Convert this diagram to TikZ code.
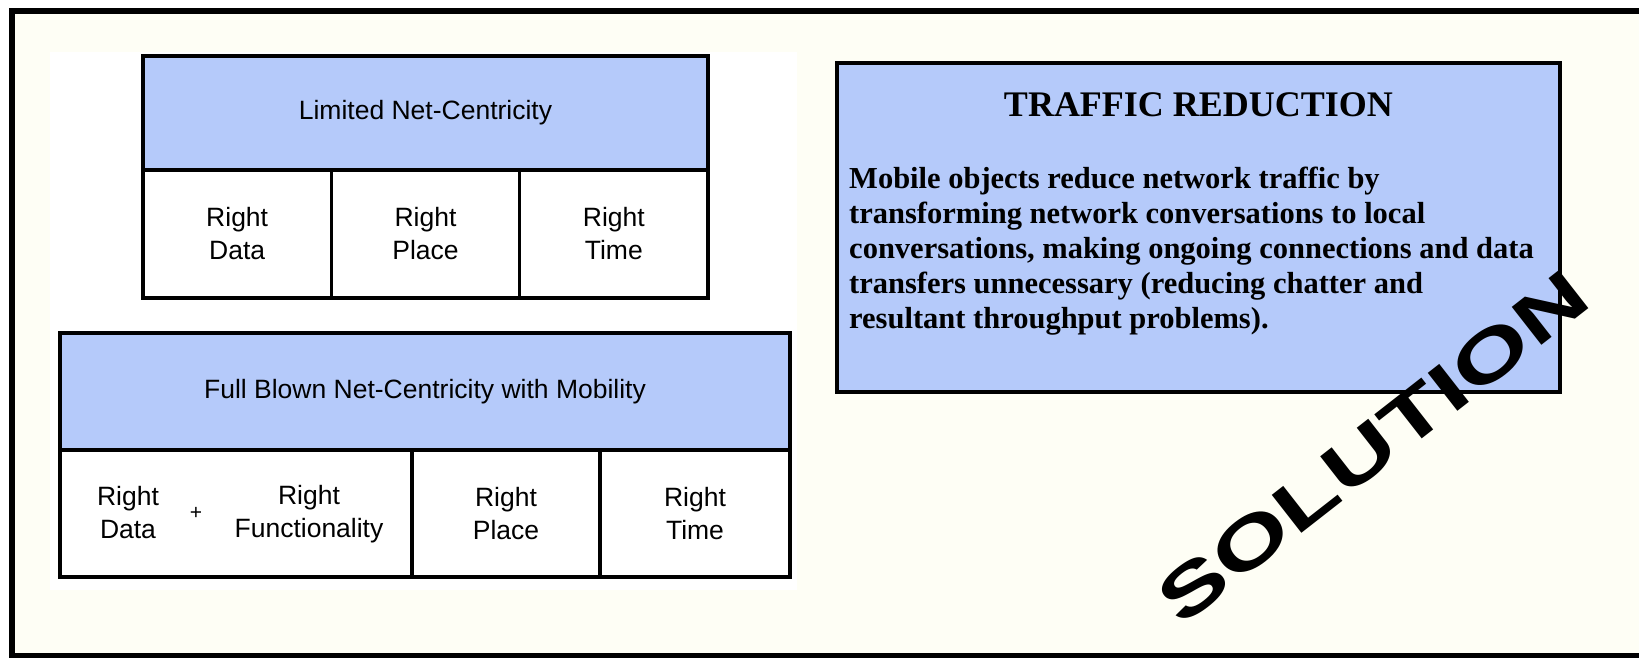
\documentclass[tikz,border=0pt]{standalone}
\usepackage{fontspec}
\setmainfont{Liberation Serif}
\setsansfont{Liberation Sans}
\usetikzlibrary{positioning}
\definecolor{netblue}{RGB}{181,202,250}
\definecolor{slidecream}{RGB}{254,254,245}
\newcommand{\tabfont}{\sffamily\fontsize{26.5}{33}\selectfont}
\tikzset{
    hdrbox/.style={draw, line width=3.5pt, fill=netblue, outer sep=0pt, inner sep=0pt, font=\tabfont, anchor=north west},
    cellbox/.style={draw, line width=3.5pt, fill=white, outer sep=0pt, inner sep=0pt, font=\tabfont, align=center},
    celltext/.style={font=\tabfont, align=center, inner sep=0pt}
}
\begin{document}
\begin{tikzpicture}[x=1pt, y=-1pt]
        \useasboundingbox (0,0) rectangle (1639,657);
        % slide frame
        \fill[slidecream] (12,10.5) rectangle (1639,655.5);
        \draw[line width=6pt] (1639,10.5) -- (12,10.5) -- (12,655.5) -- (1639,655.5);
        \fill[white] (50,52) rectangle (797,590);
        % limited net-centricity
        \node[hdrbox, minimum width=565pt, minimum height=114pt] (ltd) at (143,56) {Limited Net-Centricity};
        \node[cellbox, minimum width=188.33pt, minimum height=128pt, anchor=north west] (ltddata) at (ltd.south west) {Right\\Data};
        \node[cellbox, minimum width=188.33pt, minimum height=128pt, right=0pt of ltddata] (ltdplace) {Right\\Place};
        \node[cellbox, minimum width=188.33pt, minimum height=128pt, right=0pt of ltdplace] (ltdtime) {Right\\Time};
        % full blown net-centricity
        \node[hdrbox, minimum width=730pt, minimum height=117pt] (full) at (60,333) {Full Blown Net-Centricity with Mobility};
        \node[cellbox, minimum width=352pt, minimum height=127pt, anchor=north west] (fulldata) at (full.south west) {};
        \node[cellbox, minimum width=188pt, minimum height=127pt, right=0pt of fulldata] (fullplace) {Right\\Place};
        \node[cellbox, minimum width=190pt, minimum height=127pt, right=0pt of fullplace] (fulltime) {Right\\Time};
        \node[celltext] (rdata) at (128,513) {Right\\Data};
        \node[celltext, font=\sffamily\fontsize{21}{22}\selectfont] (plus) at (196,513) {+};
        \node[celltext] (rfunc) at (309,514) {Right\\Functionality};
        % traffic reduction
        \node[draw, line width=4pt, fill=netblue, outer sep=0pt, minimum width=723pt, minimum height=329pt, anchor=north west] (traffic) at (837,63) {};
        \node[font=\bfseries\fontsize{36}{42}\selectfont, anchor=base] (traffictitle) at (1198.5,116) {TRAFFIC REDUCTION};
        \node[font=\bfseries\fontsize{30.5}{35}\selectfont, align=left, anchor=north west, inner sep=0pt] (traffictext) at (849,167) {Mobile objects reduce network traffic by\\transforming network conversations to local\\conversations, making ongoing connections and data\\transfers unnecessary (reducing chatter and\\resultant throughput problems).};
        % stamp
        \node[font=\sffamily\bfseries\fontsize{70}{80}\selectfont, rotate=38, xscale=1.45] (solution) at (1373,447) {SOLUTION};
    \end{tikzpicture}
\end{document}
